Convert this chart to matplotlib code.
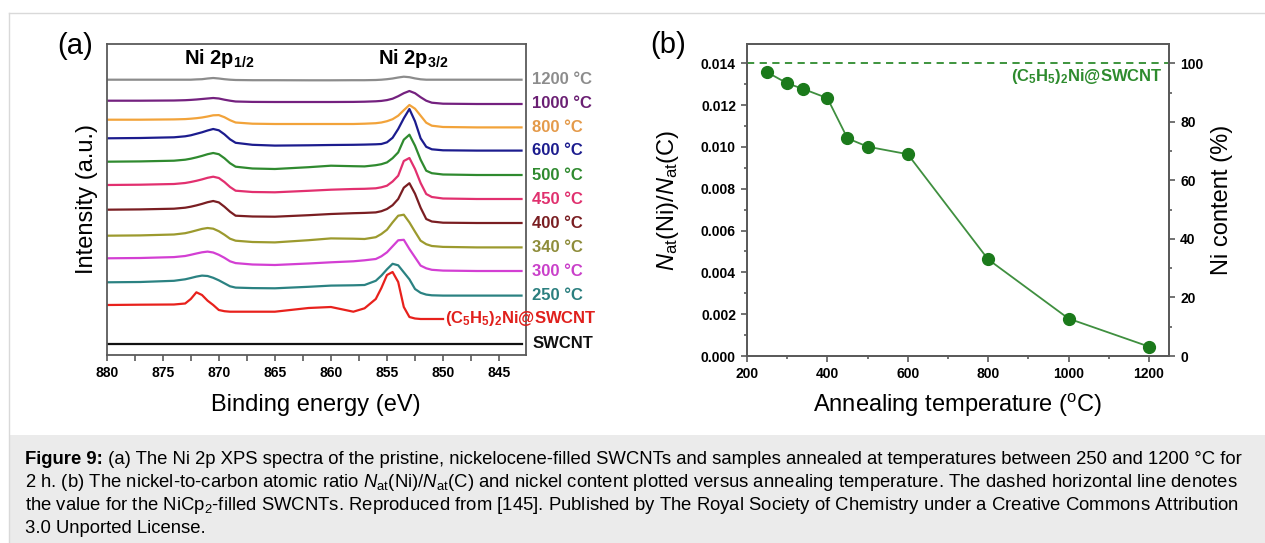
import numpy as np
import matplotlib
matplotlib.use('Agg')
import matplotlib.pyplot as plt
from matplotlib.patches import Rectangle
from matplotlib.lines import Line2D
from matplotlib.ticker import MultipleLocator, FormatStrFormatter
from matplotlib.transforms import blended_transform_factory

plt.rcParams['font.family'] = ['Liberation Sans', 'DejaVu Sans']
plt.rcParams['mathtext.fontset'] = 'custom'
plt.rcParams['mathtext.rm'] = 'Liberation Sans'
plt.rcParams['mathtext.it'] = 'Liberation Sans:italic'
plt.rcParams['mathtext.bf'] = 'Liberation Sans:bold'

# ---- (a) Ni 2p XPS spectra (a.u., relative to left end)
energy = [880, 877, 874, 873, 872.5, 872, 871.5, 871, 870.5, 870, 869.5, 869, 868.5,
          867, 865, 862, 860, 858, 857, 856, 855.5, 855, 854.5, 854, 853.5, 853,
          852.5, 852, 851.5, 851, 850, 847, 843]

spec_1200 = [0, 0, 0, 0, 0, 0.3, 0.5, 1.2, 1.7, 1.2, 0.5, 0, -0.3, -0.5, -0.5, -0.6, -0.6,
             -0.5, -0.5, -0.3, 0, 0.5, 1.2, 2.2, 3.0, 2.5, 1.3, 0.4, 0, 0, 0, 0, 0]
spec_1000 = [0, 0, 0.2, 0.5, 0.8, 1.2, 1.7, 2.2, 2.7, 2.2, 1.0, 0, -0.8, -1.2, -1.3, -1.3, -1.3,
             -1.2, -1.0, -0.6, -0.2, 0.6, 2.0, 4.5, 7.5, 9.7, 7.5, 3.5, 0, -2, -3, -3.3, -3.3]
spec_800 = [0, 0, 0.3, 0.6, 1.0, 1.5, 2.2, 3.2, 4.4, 4.6, 2.5, -0.5, -2.8, -4.0, -4.3, -4.3, -4.3,
            -4.3, -4.0, -3.5, -2.8, -1.5, 0.5, 4.0, 9.5, 14.7, 11, 4, -3, -6, -7.3, -7.7, -7.7]
spec_600 = [0, 0.3, 1.0, 2.0, 3.0, 4.5, 6.0, 7.8, 9.3, 8.0, 4.0, -1.0, -4.5, -6.5, -7.3, -7.0, -6.7,
            -6.5, -6.3, -6.0, -5.7, -4.0, 0.5, 9.3, 20, 29.3, 17, 0, -8.5, -11, -12, -12.3, -12.3]
spec_500 = [0, 0.3, 1.0, 2.0, 3.0, 4.3, 5.8, 7.5, 8.7, 7.5, 3.5, -1.5, -5.0, -6.8, -7.3, -5.5, -4.0,
            -4.5, -4.7, -3.5, -2.5, -0.7, 3.5, 9.3, 22, 27, 16, 2, -9, -11.5, -12.8, -13.3, -13.3]
spec_450 = [0, 0.3, 1.0, 2.0, 3.0, 4.2, 5.6, 7.2, 8.3, 7.0, 3.0, -2.0, -5.7, -7.0, -7.3, -5.8, -4.7,
            -4.0, -3.8, -3.3, -2.3, -0.7, 3.5, 9.3, 24, 27, 16, 2, -9, -12, -13.5, -14, -14]
spec_400 = [0, 0.3, 1.0, 2.0, 3.0, 4.3, 5.8, 7.5, 8.7, 7.3, 3.0, -2.0, -6.0, -6.8, -7.0, -5.5, -4.3,
            -3.5, -3.2, -2.7, -1.5, 0.7, 4.5, 10.7, 22, 26.5, 16, 2, -9.3, -11.8, -13, -13.3, -13.3]
spec_340 = [0, 0.3, 1.2, 2.5, 3.8, 5.3, 6.8, 7.7, 7.0, 4.5, 1.0, -3.0, -5.0, -6.3, -6.7, -4.5, -2.7,
            -3.0, -3.3, -1.5, 1.7, 6.0, 13.3, 20, 21, 13.3, 4, -5, -8.5, -10.3, -11.2, -11.7, -11.7]
spec_300 = [0, 0.3, 1.2, 2.3, 3.5, 4.8, 6.0, 6.7, 5.8, 3.5, 0.5, -3.0, -4.8, -6.2, -6.7, -5.2, -4.0,
            -3.0, -2.0, -0.7, 2.0, 6.0, 12, 18, 18.5, 9.3, 1, -7.3, -10, -11.5, -12.3, -12.7, -12.7]
spec_250 = [0, 0.3, 1.5, 3.0, 4.3, 5.7, 6.7, 6.3, 4.5, 2.0, -1.0, -4.0, -5.3, -5.8, -6.0, -4.5, -3.3,
            -3.0, -2.7, 1.5, 6.7, 13, 18.5, 17, 10, 3, -6.7, -10.5, -12.3, -13, -13.3, -13.3, -13.3]
spec_nicp = [0, 0.3, 0.5, 1.5, 6, 12.7, 10, 4.3, 0, -5, -6.2, -6.7, -6.7, -6.7, -6.7, -3, -2,
             -6.7, -3.3, 6, 17, 30, 33, 23, -2, -12, -13.5, -14, -14, -14, -14, np.nan, np.nan]
spec_swcnt = [0, 0, 0, 0, 0, 0, 0, 0, 0, 0, 0, 0, 0, 0, 0, 0, 0,
              0, 0, 0, 0, 0, 0, 0, 0, 0, 0, 0, 0, 0, 0, 0, 0]

spectra = [spec_1200, spec_1000, spec_800, spec_600, spec_500, spec_450,
           spec_400, spec_340, spec_300, spec_250, spec_nicp, spec_swcnt]
offsets = [275.3, 254.3, 235.3, 216.7, 193.3, 170, 145.3, 119.3, 96.7, 72.7, 50, 11]
labels_a = ['1200 °C', '1000 °C', '800 °C', '600 °C', '500 °C', '450 °C',
            '400 °C', '340 °C', '300 °C', '250 °C',
            r'(C$_\mathbf{5}$H$_\mathbf{5}$)$_\mathbf{2}$Ni@SWCNT', 'SWCNT']
colors_a = ['#8c8c8c', '#74217f', '#f2a33a', '#1c1c8e', '#2f8a2f', '#e2306f',
            '#7a1e22', '#9c9a2e', '#d33fd3', '#2b8282', '#e8211c', '#111111']
label_colors = ['#8c8c8c', '#6a1f73', '#e49a4a', '#1c1c8e', '#2f8a2f', '#e0306e',
                '#7a1e22', '#8e8c3a', '#c93fc9', '#2b7f7f', '#e0201c', '#111111']

# ---- (b) atomic ratio vs annealing temperature
temps = [250, 300, 340, 400, 450, 500, 600, 800, 1000, 1200]
ratio = [0.01357, 0.01304, 0.01277, 0.01233, 0.01041, 0.01001, 0.00965, 0.00462, 0.00179, 0.00045]
ratio_nicp = 0.014

W, H = 1265, 543
fig = plt.figure(figsize=(W / 100, H / 100), dpi=100)

# caption box and frame
fig.patches.append(Rectangle((9 / W, 0), 1 - 9 / W, 108 / H, transform=fig.transFigure,
                             facecolor='#ebebeb', edgecolor='none', zorder=0))
fig.lines.append(Line2D([9 / W, 9 / W], [0, 1 - 13 / H], transform=fig.transFigure,
                        color='#d9d9d9', lw=1))
fig.lines.append(Line2D([9 / W, 1], [1 - 13 / H, 1 - 13 / H], transform=fig.transFigure,
                        color='#d9d9d9', lw=1))

spine_col = '#5a5a5a'

# ---------------- panel (a)
ax = fig.add_axes([106.7 / W, 1 - 355 / H, (526 - 106.7) / W, (355 - 43.5) / H])
e = np.array(energy)
for sp, off, col in zip(spectra, offsets, colors_a):
    ax.plot(e, off + np.array(sp, dtype=float), color=col, lw=1.6)
ax.set_xlim(880, 842.6)
ax.set_ylim(0, 311.5)
ax.set_yticks([])
ax.xaxis.set_major_locator(MultipleLocator(5))
ax.xaxis.set_minor_locator(MultipleLocator(2.5))
ax.tick_params(axis='x', which='both', direction='out', length=4, width=1.2,
               color=spine_col, labelsize=10, pad=4)
for lab in ax.get_xticklabels():
    lab.set_fontweight('bold')
for s in ax.spines.values():
    s.set_color(spine_col)
    s.set_linewidth(1.3)

tr = blended_transform_factory(ax.transAxes, ax.transData)
for i, (sp, off, lab, col) in enumerate(zip(spectra, offsets, labels_a, label_colors)):
    if i == 10:
        ax.text(1.17, off + sp[-3], lab, transform=tr, ha='right', va='center', color=col,
                fontsize=12, fontweight='bold', clip_on=False)
    else:
        ax.text(1.015, off + sp[-1], lab, transform=tr, ha='left', va='center', color=col,
                fontsize=12, fontweight='bold', clip_on=False)

ax.text(0.268, 0.952, r'Ni 2p$_\mathbf{1/2}$', transform=ax.transAxes, ha='center', va='center',
        fontsize=14.5, fontweight='bold')
ax.text(0.73, 0.952, r'Ni 2p$_\mathbf{3/2}$', transform=ax.transAxes, ha='center', va='center',
        fontsize=14.5, fontweight='bold')

fig.text(75 / W, 1 - 46 / H, '(a)', fontsize=21, ha='center', va='center')
fig.text(87 / W, 1 - 199 / H, 'Intensity (a.u.)', fontsize=17, rotation=90, ha='center', va='center')
fig.text(316 / W, 1 - 405 / H, 'Binding energy (eV)', fontsize=17, ha='center', va='center')

# ---------------- panel (b)
bx = fig.add_axes([747 / W, 1 - 356 / H, (1169 - 747) / W, (356 - 44) / H])
green_line = '#3f8f3f'
green_dot = '#1b7a1b'
bx.axhline(ratio_nicp, color='#2e8b2e', lw=1.3, ls=(0, (4, 3)), zorder=1)
bx.plot(temps, ratio, color=green_line, lw=1.3, marker='o', ms=8.5,
        mfc=green_dot, mec=green_dot, zorder=3)
bx.set_xlim(200, 1250)
bx.set_ylim(0, 0.01492)
bx.xaxis.set_major_locator(MultipleLocator(200))
bx.xaxis.set_minor_locator(MultipleLocator(100))
bx.yaxis.set_major_locator(MultipleLocator(0.002))
bx.yaxis.set_minor_locator(MultipleLocator(0.001))
bx.yaxis.set_major_formatter(FormatStrFormatter('%.3f'))
bx.tick_params(which='major', direction='out', length=4.5, width=1.2, color=spine_col, labelsize=10)
bx.tick_params(which='minor', direction='out', length=2.5, width=1.2, color=spine_col)
for lab in bx.get_xticklabels() + bx.get_yticklabels():
    lab.set_fontweight('bold')
for s in bx.spines.values():
    s.set_color(spine_col)
    s.set_linewidth(1.3)
bx.text(0.985, 0.895, r'(C$_\mathbf{5}$H$_\mathbf{5}$)$_\mathbf{2}$Ni@SWCNT', transform=bx.transAxes,
        ha='right', va='center', color='#2e8b2e', fontsize=12, fontweight='bold')

rx = bx.twinx()
rx.set_ylim(0, 0.01492 / ratio_nicp * 100)
rx.yaxis.set_major_locator(MultipleLocator(20))
rx.yaxis.set_minor_locator(MultipleLocator(10))
rx.tick_params(which='major', direction='out', length=4.5, width=1.2, color=spine_col, labelsize=10)
rx.tick_params(which='minor', direction='out', length=2.5, width=1.2, color=spine_col)
for lab in rx.get_yticklabels():
    lab.set_fontweight('bold')
for s in rx.spines.values():
    s.set_color(spine_col)
    s.set_linewidth(1.3)

fig.text(668 / W, 1 - 200 / H, r'$N_{\rm at}$(Ni)/$N_{\rm at}$(C)', fontsize=17, rotation=90,
         ha='center', va='center')
fig.text(1222 / W, 1 - 200 / H, 'Ni content (%)', fontsize=17, rotation=90, ha='center', va='center')
fig.text(958 / W, 1 - 405 / H, r'Annealing temperature ($^{\rm o}$C)', fontsize=17,
         ha='center', va='center')
fig.text(668 / W, 1 - 45 / H, '(b)', fontsize=21, ha='center', va='center')

# ---------------- caption
cap_fs = 13.35
cap = [' (a) The Ni 2p XPS spectra of the pristine, nickelocene-filled SWCNTs '
       'and samples annealed at temperatures between 250 and 1200 °C for',
       r'2 h. (b) The nickel-to-carbon atomic ratio $N_{\rm at}$(Ni)/$N_{\rm at}$(C) and nickel content '
       r'plotted versus annealing temperature. The dashed horizontal line denotes',
       r'the value for the NiCp$_2$-filled SWCNTs. Reproduced from [145]. Published by The Royal '
       r'Society of Chemistry under a Creative Commons Attribution',
       '3.0 Unported License.']
renderer = fig.canvas.get_renderer()
head = fig.text(25 / W, 1 - 459 / H, 'Figure 9:', fontsize=cap_fs, fontweight='bold',
                ha='left', va='center')
head_w = head.get_window_extent(renderer).width
for i, line in enumerate(cap):
    x0 = 25 + (head_w if i == 0 else 0)
    fig.text(x0 / W, 1 - (459 + 23.3 * i) / H, line, fontsize=cap_fs, ha='left', va='center')

fig.savefig('out.png', dpi=100)
